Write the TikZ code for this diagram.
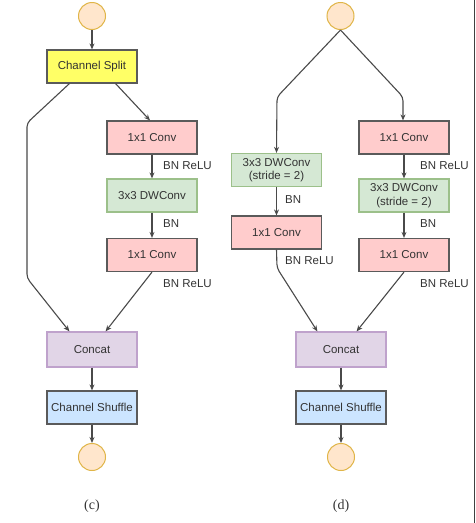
\documentclass[tikz,border=0pt]{standalone}
\usepackage{fontspec}
\setmainfont{Liberation Sans}
\newfontfamily\capfont{Liberation Serif}
\usetikzlibrary{arrows.meta}
\definecolor{txt}{HTML}{333333}
\definecolor{ln}{HTML}{4A4A4A}
\definecolor{cfill}{HTML}{FFE6CC}
\definecolor{cdraw}{HTML}{E0B548}
\definecolor{yfill}{HTML}{FFFF66}
\definecolor{pfill}{HTML}{FFCCCC}
\definecolor{gfill}{HTML}{D5E8D4}
\definecolor{gdraw}{HTML}{9CC08A}
\definecolor{vfill}{HTML}{E1D5E7}
\definecolor{vdraw}{HTML}{BFA2CC}
\definecolor{bfill}{HTML}{CCE5FF}
\definecolor{boxdraw}{HTML}{5A5A5A}
\tikzset{
  x=1pt, y=-1pt,
  io/.style={circle, draw=cdraw, fill=cfill, line width=1pt, minimum size=27pt, inner sep=0pt},
  box/.style={rectangle, draw=boxdraw, line width=1.2pt, minimum width=90pt, minimum height=33pt, inner sep=0pt, font=\fontsize{11.5}{13.5}\selectfont, text=txt, align=center},
  splitbox/.style={box, fill=yfill},
  convbox/.style={box, fill=pfill},
  dwbox/.style={box, fill=gfill, draw=gdraw},
  catbox/.style={box, fill=vfill, draw=vdraw, minimum height=35pt},
  shufbox/.style={box, fill=bfill},
  lbl/.style={font=\fontsize{11.5}{13.5}\selectfont, text=txt, anchor=west, inner sep=0pt},
  conn/.style={draw=ln, line width=1.1pt, rounded corners=4pt, -{Stealth[length=6pt,width=5pt]}},
  caplbl/.style={font=\capfont\fontsize{14}{16}\selectfont, text=black!80}
}
\begin{document}
\begin{tikzpicture}
\useasboundingbox (0,0) rectangle (475,523);
\draw[line width=1pt, black!75] (474,0) -- (474,523);
% ---------- panel (c)
\node[io] (cin) at (92,16) {};
\node[splitbox] (csplit) at (92,66.5) {Channel Split};
\node[convbox] (cc1) at (152,137.5) {1x1 Conv};
\node[dwbox] (cdw) at (152,195.5) {3x3 DWConv};
\node[convbox] (cc2) at (152,255) {1x1 Conv};
\node[catbox] (ccat) at (92,349.5) {Concat};
\node[shufbox] (cshuf) at (92,407.5) {Channel Shuffle};
\node[io] (cout) at (92,457) {};
\node[lbl] (cl1) at (163,166) {BN ReLU};
\node[lbl] (cl2) at (163,224) {BN};
\node[lbl] (cl3) at (163,284) {BN ReLU};
\node[caplbl] (ccap) at (92,506) {(c)};
\coordinate (cb1) at (27,123);
\coordinate (cb2) at (27,278);
\draw[conn] (cin) -- (csplit);
\draw[conn] ([xshift=23pt]csplit.south west) -- (cb1) -- (cb2) -- ([xshift=23pt]ccat.north west);
\draw[conn] ([xshift=-22pt]csplit.south east) -- ([xshift=-2pt]cc1.north);
\draw[conn] (cc1) -- (cdw);
\draw[conn] (cdw) -- (cc2);
\draw[conn] (cc2.south) -- ([xshift=-32pt]ccat.north east);
\draw[conn] (ccat) -- (cshuf);
\draw[conn] (cshuf) -- (cout);
% ---------- panel (d)
\node[io] (din) at (340.5,16) {};
\node[dwbox] (ddwl) at (276.5,170) {3x3 DWConv\\(stride = 2)};
\node[convbox] (dcl) at (276.5,232.5) {1x1 Conv};
\node[convbox] (dc1) at (404,137.5) {1x1 Conv};
\node[dwbox] (ddwr) at (404,195.5) {3x3 DWConv\\(stride = 2)};
\node[convbox] (dc2) at (404,255) {1x1 Conv};
\node[catbox] (dcat) at (341,349.5) {Concat};
\node[shufbox] (dshuf) at (341,407.5) {Channel Shuffle};
\node[io] (dout) at (341,457) {};
\node[lbl] (dl0) at (285,200) {BN};
\node[lbl] (dl00) at (285,261) {BN ReLU};
\node[lbl] (dl1) at (420,166) {BN ReLU};
\node[lbl] (dl2) at (420,224) {BN};
\node[lbl] (dl3) at (420,284) {BN ReLU};
\node[caplbl] (dcap) at (341,506) {(d)};
\coordinate (db1) at (277,97);
\coordinate (db2) at (403,97);
\coordinate (db3) at (277,268);
\draw[conn] (din.south) -- (db1) -- (ddwl.north);
\draw[conn] (din.south) -- (db2) -- ([xshift=-1pt]dc1.north);
\draw[conn] (ddwl) -- (dcl);
\draw[conn] (dcl.south) -- (db3) -- ([xshift=22pt]dcat.north west);
\draw[conn] (dc1) -- (ddwr);
\draw[conn] (ddwr) -- (dc2);
\draw[conn] (dc2.south) -- ([xshift=-30pt]dcat.north east);
\draw[conn] (dcat) -- (dshuf);
\draw[conn] (dshuf) -- (dout);
\end{tikzpicture}
\end{document}
